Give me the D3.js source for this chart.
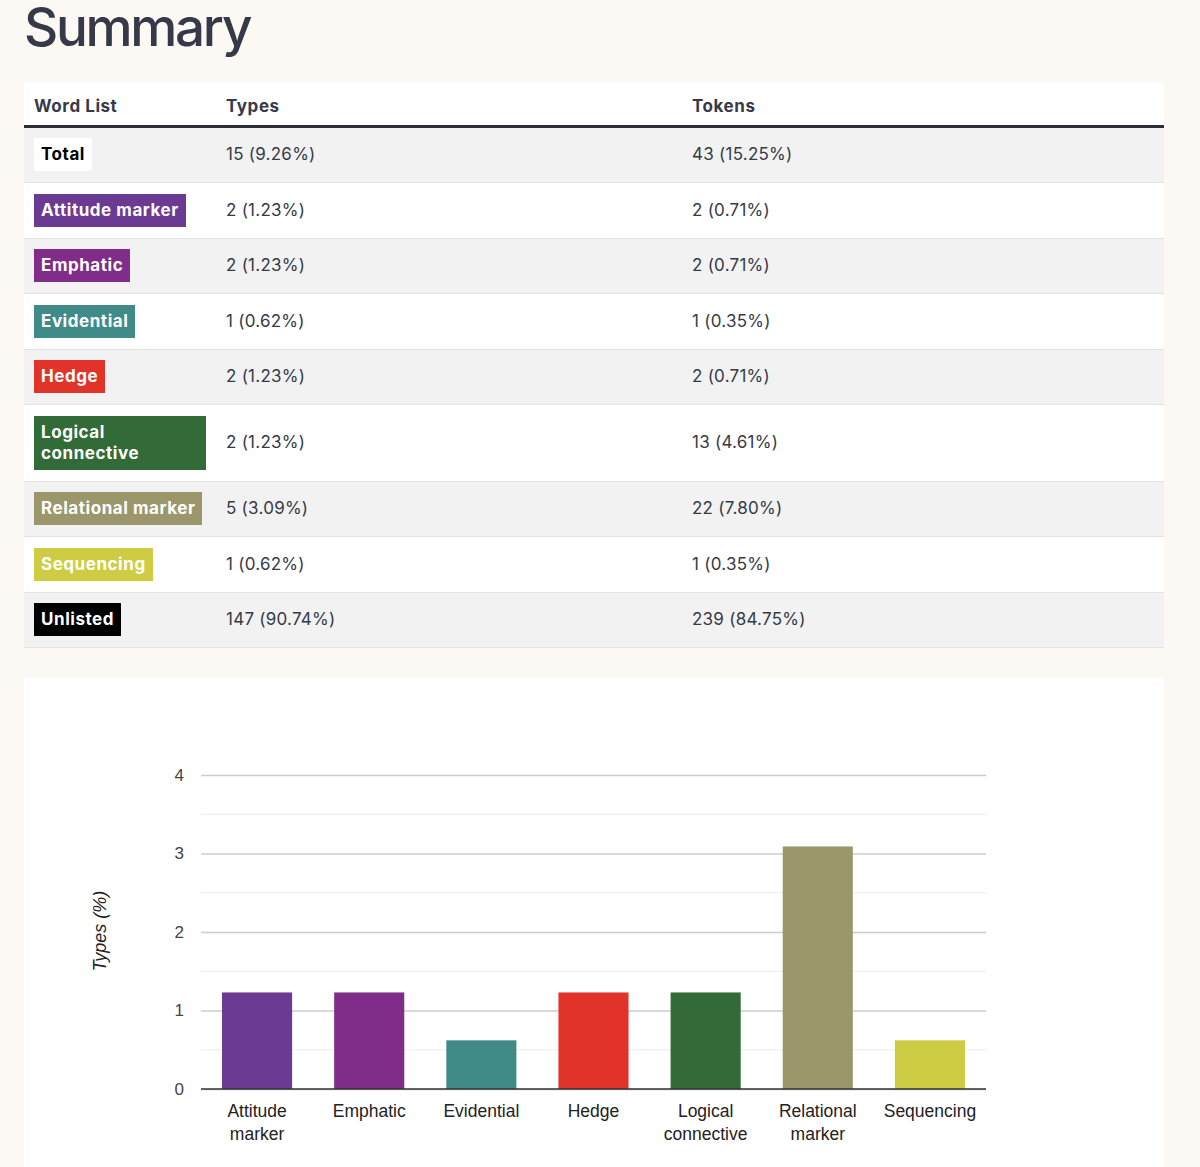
<!DOCTYPE html>
<html>
<head>
<meta charset="utf-8">
<script src="https://cdn.jsdelivr.net/npm/d3@7"></script>
<style>
body { margin: 0; background: #fcf8f3; font-family: Inter, "Noto Sans", sans-serif; color: #363a48; }
#page { position: relative; width: 1140px; margin-left: 24px; }
h1 { margin: 0 0 28px 0; font-size: 53px; line-height: 54px; font-weight: 500; color: #363a48; letter-spacing: -2.3px; }
table { width: 1140px; border-collapse: collapse; table-layout: fixed; background: #fff; font-size: 17px; }
th { height: 44px; padding: 5px 10px 0 10px; text-align: left; font-weight: 700; letter-spacing: 0.55px; border-bottom: 3px solid #2b2e36; box-sizing: border-box; }
td { padding: 10.75px 10px; border-bottom: 1px solid #e3e3e3; vertical-align: middle; line-height: 21px; letter-spacing: 0.25px; }
tr.odd td { background: #f2f2f2; }
.badge { display: inline-block; padding: 6px 7px; font-weight: 700; color: #fff; line-height: 21px; letter-spacing: 0.55px; }
#chart-card { margin-top: 29px; background: #fff; height: 500px; }
</style>
</head>
<body>
<div id="page">
<h1>Summary</h1>
<div id="table-area"></div>
<div id="chart-card"></div>
</div>
<script>
// table rows
var rowLabels = ["Total", "Attitude marker", "Emphatic", "Evidential", "Hedge", "Logical connective", "Relational marker", "Sequencing", "Unlisted"];
var typeCounts = [15, 2, 2, 1, 2, 2, 5, 1, 147];
var typePct = [9.26, 1.23, 1.23, 0.62, 1.23, 1.23, 3.09, 0.62, 90.74];
var tokenCounts = [43, 2, 2, 1, 2, 13, 22, 1, 239];
var tokenPct = [15.25, 0.71, 0.71, 0.35, 0.71, 4.61, 7.80, 0.35, 84.75];
var badgeColors = ["#ffffff", "#6b3a92", "#7f2d88", "#408b88", "#e2332b", "#326b37", "#9b976b", "#cecc43", "#000000"];
var headers = ["Word List", "Types", "Tokens"];

// chart (word lists only)
var categories = rowLabels.slice(1, 8);
var chartValues = typePct.slice(1, 8);
var chartColors = badgeColors.slice(1, 8);
var yTicks = [0, 1, 2, 3, 4];

var table = d3.select("#table-area").append("table");
var colgroup = table.append("colgroup");
colgroup.append("col").style("width", "192px");
colgroup.append("col").style("width", "466px");
colgroup.append("col");

table.append("thead").append("tr")
	.selectAll("th")
	.data(headers)
	.enter()
	.append("th")
		.text((d) => { return d; });

var rows = table.append("tbody").selectAll("tr")
	.data(rowLabels)
	.enter()
	.append("tr")
		.attr("class", (d, i) => { return i % 2 == 0 ? "odd" : "even"; });

rows.append("td")
	.append("span")
		.attr("class", "badge")
		.style("background", (d, i) => { return badgeColors[i]; })
		.style("color", (d, i) => { return i == 0 ? "#000" : "#fff"; })
		.text((d) => { return d; });

rows.append("td")
	.text((d, i) => { return typeCounts[i] + " (" + typePct[i].toFixed(2) + "%)"; });

rows.append("td")
	.text((d, i) => { return tokenCounts[i] + " (" + tokenPct[i].toFixed(2) + "%)"; });

// bar chart
var mwidth = 785;
var mheight = 314;
var margin = {top: 98, right: 178, bottom: 88, left: 177};

var svg = d3.select("#chart-card").append("svg")
	.attr("width", mwidth + margin.left + margin.right)
	.attr("height", mheight + margin.top + margin.bottom)
	.style("font-family", "'Liberation Sans', Arial, sans-serif");

var g = svg.append("g")
	.attr("transform", "translate(" + margin.left + ", " + margin.top + ")");

var x = d3.scaleBand()
	.domain(categories)
	.range([0, mwidth])
	.paddingInner(0.375)
	.paddingOuter(0.1875);

var y = d3.scaleLinear()
	.domain([0, 4])
	.range([mheight, 0]);

// minor gridlines
g.selectAll(".minor")
	.data(y.ticks(8).filter((d) => { return d % 1 != 0; }))
	.enter()
	.append("line")
		.attr("class", "minor")
		.attr("x1", 0).attr("x2", mwidth)
		.attr("y1", (d) => { return y(d); })
		.attr("y2", (d) => { return y(d); })
		.attr("stroke", "#ececec")
		.attr("stroke-width", 1);

var leftAxis = d3.axisLeft(y)
	.tickValues(yTicks)
	.tickSize(-mwidth)
	.tickPadding(17)
	.tickFormat(d3.format("d"));

var yg = g.append("g")
	.attr("class", "left axis")
	.call(leftAxis);
yg.select(".domain").remove();
yg.selectAll("line").attr("stroke", "#cccccc").attr("stroke-width", 1.5);
yg.selectAll("text").attr("font-size", "17px").attr("fill", "#444");

g.selectAll("rect")
	.data(chartValues)
	.enter()
	.append("rect")
		.attr("x", (d, i) => { return x(categories[i]); })
		.attr("y", (d) => { return y(d); })
		.attr("width", x.bandwidth())
		.attr("height", (d) => { return mheight - y(d); })
		.attr("fill", (d, i) => { return chartColors[i]; });

// baseline
g.append("line")
	.attr("x1", 0).attr("x2", mwidth)
	.attr("y1", y(0)).attr("y2", y(0))
	.attr("stroke", "#333")
	.attr("stroke-width", 1.5);

var xAxisCall = d3.axisBottom(x).tickSize(0).tickFormat("");
var xg = g.append("g")
	.attr("class", "bottom axis")
	.attr("transform", "translate(0, " + mheight + ")")
	.call(xAxisCall);
xg.select(".domain").remove();

xg.selectAll(".tick")
	.append("text")
		.attr("text-anchor", "middle")
		.attr("font-size", "17.5px")
		.attr("fill", "#222")
		.attr("y", 28)
		.each(function(d) {
			var words = d.split(" ");
			var t = d3.select(this);
			words.forEach((w, k) => {
				t.append("tspan").attr("x", 0).attr("dy", k == 0 ? 0 : 23).text(w);
			});
		});

// Y Label
g.append("text")
	.attr("class", "y axis-label")
	.attr("x", -(mheight / 2) + 1)
	.attr("y", -95)
	.attr("font-size", "18px")
	.attr("font-style", "italic")
	.attr("text-anchor", "middle")
	.attr("transform", "rotate(-90)")
	.attr("fill", "#222")
	.text("Types (%)");
</script>
</body>
</html>
